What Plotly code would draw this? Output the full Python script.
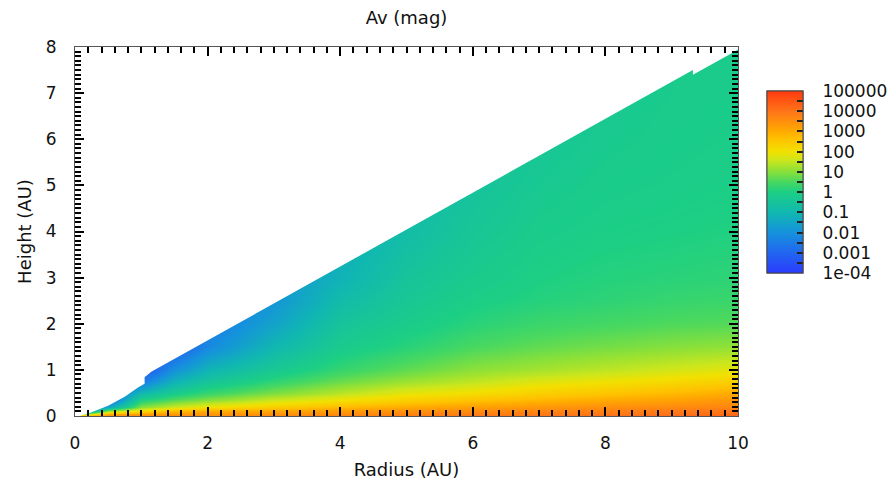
import plotly.graph_objects as go

# ---- data ----
radius_au = [0.1, 0.5, 1, 1.5, 2, 3, 4, 5, 6, 7, 8, 9, 10]
height_au = [0, 0.05, 0.1, 0.2, 0.35, 0.5, 0.75, 1, 1.5, 2, 2.5, 3, 4, 5, 6, 7, 8]

# log10(Av) profiles versus height, one list per radius
logav_r0p1 = [3.0, 1.0, -2.5, -3, -3, -3, -3, -3, -3, -3, -3, -3, -3, -3, -3, -3, -3]
logav_r0p5 = [3.6, 3.0, 1.2, -1.5, -3, -3, -3, -3, -3, -3, -3, -3, -3, -3, -3, -3, -3]
logav_r1 = [3.6, 3.2, 2.2, 1.0, 0.0, -1.0, -2.6, -3.5, -3.5, -3.5, -3.5, -3.5, -3.5, -3.5, -3.5, -3.5, -3.5]
logav_r1p5 = [3.6, 3.3, 2.8, 1.6, 0.6, -0.2, -1.2, -2.0, -3.3, -3.3, -3.3, -3.3, -3.3, -3.3, -3.3, -3.3, -3.3]
logav_r2 = [3.6, 3.35, 3.0, 2.0, 1.0, 0.3, -0.5, -1.1, -2.2, -2.6, -2.6, -2.6, -2.6, -2.6, -2.6, -2.6, -2.6]
logav_r3 = [3.7, 3.45, 3.1, 2.4, 1.6, 0.9, 0.2, -0.3, -1.0, -1.55, -1.9, -1.9, -1.9, -1.9, -1.9, -1.9, -1.9]
logav_r4 = [3.8, 3.55, 3.3, 2.75, 2.0, 1.4, 0.75, 0.3, -0.2, -0.5, -0.85, -1.15, -1.3, -1.3, -1.3, -1.3, -1.3]
logav_r5 = [3.9, 3.7, 3.5, 3.0, 2.35, 1.85, 1.15, 0.7, 0.15, -0.15, -0.35, -0.5, -0.8, -0.9, -0.9, -0.9, -0.9]
logav_r6 = [4.0, 3.8, 3.6, 3.2, 2.6, 2.05, 1.45, 1.05, 0.5, 0.15, -0.05, -0.2, -0.4, -0.55, -0.6, -0.6, -0.6]
logav_r7 = [4.05, 3.9, 3.7, 3.35, 2.8, 2.35, 1.75, 1.25, 0.7, 0.35, 0.1, 0.0, -0.15, -0.3, -0.4, -0.4, -0.4]
logav_r8 = [4.1, 3.95, 3.8, 3.5, 3.0, 2.55, 1.95, 1.45, 0.85, 0.45, 0.2, 0.1, -0.05, -0.15, -0.25, -0.3, -0.3]
logav_r9 = [4.2, 4.05, 3.9, 3.6, 3.15, 2.75, 2.15, 1.65, 1.0, 0.55, 0.3, 0.15, 0.0, -0.1, -0.15, -0.2, -0.2]
logav_r10 = [4.3, 4.15, 4.0, 3.7, 3.4, 3.0, 2.35, 1.85, 1.1, 0.6, 0.35, 0.2, 0.05, -0.05, -0.1, -0.15, -0.15]

# upper surface of the disk model (height where the grid ends)
surface_r = [0.07, 0.25, 0.5, 0.75, 0.95, 1.05, 1.05, 1.15, 9.32, 9.32, 10]
surface_z = [0, 0.08, 0.22, 0.42, 0.62, 0.70, 0.84, 0.96, 7.5, 7.4, 7.94]

cbar_exponents = [-4, -3, -2, -1, 0, 1, 2, 3, 4, 5]
cbar_labels = ['1e-04', '0.001', '0.01', '0.1', '1', '10', '100', '1000', '10000', '100000']
cbar_tick_marks = [-3.5, -3, -2.5, -2, -1.5, -1, -0.5, 0, 0.5, 1, 1.5, 2, 2.5, 3, 3.5, 4, 4.5]

columns = [logav_r0p1, logav_r0p5, logav_r1, logav_r1p5, logav_r2, logav_r3, logav_r4,
           logav_r5, logav_r6, logav_r7, logav_r8, logav_r9, logav_r10]
zgrid = [[col[i] for col in columns] for i in range(len(height_au))]

colorscale = [
    [0.000, '#2a3cff'],
    [0.111, '#2266f0'],
    [0.222, '#1592dc'],
    [0.333, '#10b8b0'],
    [0.444, '#1ccf84'],
    [0.500, '#48d860'],
    [0.556, '#88e03a'],
    [0.620, '#cce61c'],
    [0.667, '#f2e000'],
    [0.740, '#ffc000'],
    [0.778, '#ffaa00'],
    [0.889, '#ff7418'],
    [1.000, '#ff3a10'],
]

FONT = 'DejaVu Sans'
CB_X = (767 - 75) / 663
CB_Y = (416 - 182) / 369
CB_LEN = 182 / 369

fig = go.Figure()
fig.add_trace(go.Heatmap(
    x=radius_au, y=height_au, z=zgrid,
    zmin=-4, zmax=5, zsmooth='best',
    colorscale=colorscale,
    colorbar=dict(
        x=CB_X, xanchor='left', xpad=0,
        y=CB_Y, yanchor='middle', ypad=0,
        len=CB_LEN, lenmode='fraction', thickness=36,
        outlinewidth=1, outlinecolor='#444',
        tickvals=cbar_exponents, ticktext=cbar_labels,
        ticks='outside', ticklen=16, tickcolor='rgba(0,0,0,0)',
        tickfont=dict(family=FONT, size=17, color='#111'),
    ),
    hoverinfo='skip',
))

# white cover above the model surface
mask_x = [-0.5, surface_r[0]] + surface_r + [10.5, 10.5, -0.5]
mask_y = [-0.5, -0.5] + surface_z + [surface_z[-1], 9, 9]
fig.add_trace(go.Scatter(
    x=mask_x, y=mask_y, mode='lines', fill='toself',
    fillcolor='white', line=dict(width=0, color='white'),
    hoverinfo='skip', showlegend=False,
))

# second colour bar, overlaid on the first, only to draw the inner tick marks
fig.add_trace(go.Scatter(
    x=[None], y=[None], mode='markers', hoverinfo='skip', showlegend=False,
    marker=dict(color=[0], cmin=-4, cmax=5, colorscale=colorscale, showscale=True,
                colorbar=dict(
                    x=CB_X, xanchor='left', xpad=0,
                    y=CB_Y, yanchor='middle', ypad=0,
                    len=CB_LEN, lenmode='fraction', thickness=36,
                    outlinewidth=1, outlinecolor='#444',
                    tickvals=cbar_tick_marks, showticklabels=False,
                    ticks='inside', ticklen=6, tickcolor='#222', tickwidth=1.5,
                )),
))

axis_common = dict(
    showgrid=False, zeroline=False, showline=True, linecolor='#555', linewidth=1,
    mirror='allticks', ticks='inside', ticklen=9, tickcolor='#000', tickwidth=1.5,
    tickfont=dict(family=FONT, size=17, color='#111'),
    layer='above traces',
)

fig.update_layout(
    width=888, height=480,
    margin=dict(l=75, r=150, t=47, b=64, autoexpand=False),
    paper_bgcolor='white', plot_bgcolor='white',
    showlegend=False,
    title=dict(text='Av (mag)', x=0.5, xref='paper', y=1 - 18 / 480, yref='container',
               yanchor='middle', font=dict(family=FONT, size=18, color='#111')),
    xaxis=dict(range=[0, 10], dtick=2, tick0=0,
               minor=dict(dtick=0.2, ticks='inside', ticklen=6, tickcolor='#000', tickwidth=1.5),
               title=dict(text='Radius (AU)', font=dict(family=FONT, size=18, color='#111'), standoff=12),
               ticklabelstandoff=12, automargin=False, **axis_common),
    yaxis=dict(range=[0, 8], dtick=1, tick0=0,
               minor=dict(dtick=0.1, ticks='inside', ticklen=6, tickcolor='#000', tickwidth=1.5),
               title=dict(text='Height (AU)', font=dict(family=FONT, size=18, color='#111'), standoff=9),
               ticklabelstandoff=14, automargin=False, **axis_common),
)

fig.write_html('out.html')
